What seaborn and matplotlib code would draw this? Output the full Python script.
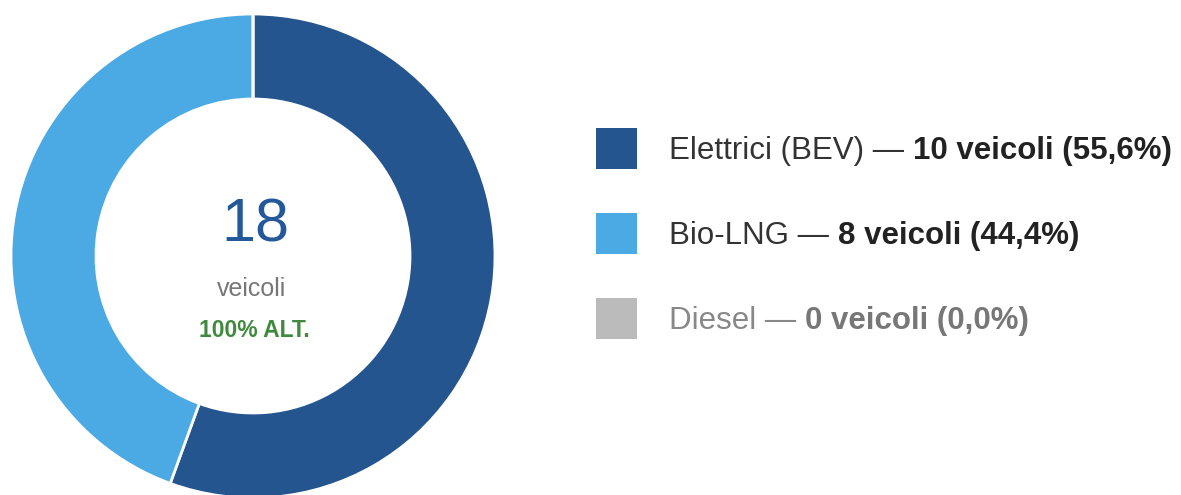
import matplotlib
matplotlib.use("Agg")
import matplotlib.pyplot as plt
import seaborn as sns
from matplotlib.patches import Rectangle

# data
categories = ["Elettrici (BEV)", "Bio-LNG", "Diesel"]
vehicles = [10, 8, 0]
percent_labels = ["55,6%", "44,4%", "0,0%"]
total_label = "18"
center_sub = "veicoli"
center_badge = "100% ALT."

colors = ["#24558f", "#4ba9e4", "#bbbbbb"]
label_colors = ["#333333", "#333333", "#888888"]
bold_colors = ["#222222", "#222222", "#777777"]

W, H = 1181, 495

sns.set_theme(style="white")
plt.rcParams["font.family"] = ["Liberation Sans", "DejaVu Sans"]

fig = plt.figure(figsize=(W / 100, H / 100), dpi=100)
ax = fig.add_axes([0, 0, 1, 1])

# donut (pixel coords, y measured from bottom)
cx, cy = 253, H - 256
r_out, r_in = 242, 157
ax.pie(vehicles, colors=colors, startangle=90, counterclock=False,
       center=(cx, cy), radius=r_out,
       wedgeprops=dict(width=r_out - r_in, edgecolor="white", linewidth=2))
ax.set_xlim(0, W)
ax.set_ylim(0, H)
ax.set_aspect("auto")
ax.axis("off")

# center labels
ax.text(cx + 2, H - 242, total_label, ha="center", va="baseline",
        fontsize=44, color="#24589a")
ax.text(cx - 1, H - 296, center_sub, ha="center", va="baseline",
        fontsize=18, color="#777777")
ax.text(cx + 1, H - 337, center_badge, ha="center", va="baseline",
        fontsize=16.5, color="#3f8a3f", fontweight="bold")

# legend
renderer = fig.canvas.get_renderer()
row_y = [159, 244, 329]
for name, n, pct, col, lc, bc, y in zip(categories, vehicles, percent_labels,
                                        colors, label_colors, bold_colors, row_y):
    ax.add_patch(Rectangle((596, H - y - 9.5), 41, 41, facecolor=col,
                           edgecolor="none"))
    t = ax.text(669, H - y, f"{name} \u2014 ", ha="left", va="baseline",
                fontsize=22.5, color=lc)
    bb = t.get_window_extent(renderer=renderer)
    ax.text(bb.x1, H - y, f"{n} veicoli ({pct})", ha="left", va="baseline",
            fontsize=22.5, color=bc, fontweight="bold")

fig.savefig("out.png", dpi=100, facecolor="white")
